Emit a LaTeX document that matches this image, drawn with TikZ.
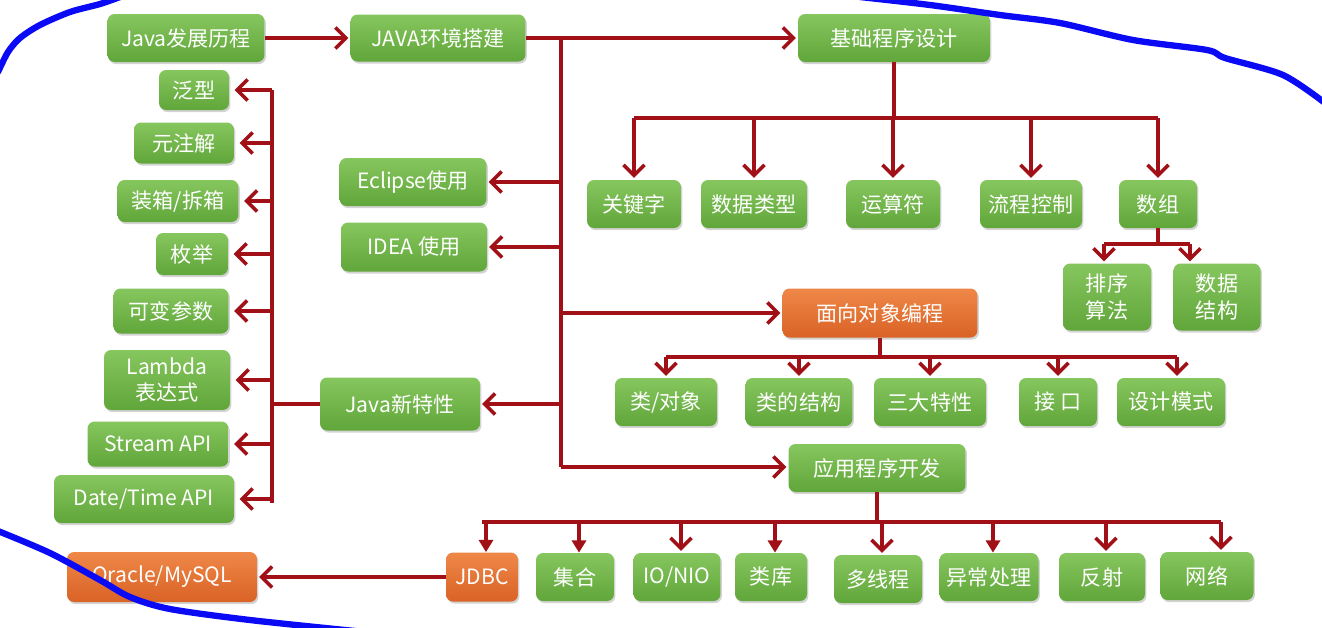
\documentclass[tikz,border=0pt]{standalone}
\usepackage{fontspec}
\setmainfont{Noto Sans CJK SC}
\usetikzlibrary{arrows.meta,shadows}

\definecolor{linkred}{RGB}{160,16,22}
\definecolor{greentop}{RGB}{134,198,94}
\definecolor{greenbot}{RGB}{96,166,58}
\definecolor{orangetop}{RGB}{238,136,72}
\definecolor{orangebot}{RGB}{218,98,38}
\definecolor{penblue}{RGB}{10,10,245}

\tikzset{
  topic/.style={rounded corners=4pt, top color=greentop, bottom color=greenbot, draw=none,
    text=white, font=\fontsize{12}{15}\selectfont, align=center, inner sep=2pt,
    drop shadow={opacity=0.35, shadow xshift=0.8pt, shadow yshift=-1.2pt}},
  hot/.style={topic, top color=orangetop, bottom color=orangebot},
  link/.style={draw=linkred, line width=2.2pt},
  arrow/.style={link, -{Straight Barb[length=6pt,width=12pt,line width=2pt]}, shorten >=1pt},
  tip/.style={link, -{Triangle[length=7pt,width=8pt]}},
  pen/.style={draw=penblue, line width=3.6pt, line cap=round, line join=round}
}

\begin{document}
\begin{tikzpicture}[x=0.02cm, y=-0.02cm]

    \useasboundingbox (0,0) rectangle (1322,627);

    % Main line
    \node[topic, minimum width=3.14cm, minimum height=0.96cm] (hist) at (186,38) {Java发展历程};
    \node[topic, minimum width=3.5cm, minimum height=0.94cm] (env) at (438,38) {JAVA环境搭建};
    \node[topic, minimum width=3.84cm, minimum height=0.96cm] (basic) at (894,38) {基础程序设计};

    % Basics
    \node[topic, minimum width=1.88cm, minimum height=0.96cm] (kw) at (634,204) {关键字};
    \node[topic, minimum width=2.12cm, minimum height=0.96cm] (dtype) at (754,204) {数据类型};
    \node[topic, minimum width=1.88cm, minimum height=0.96cm] (op) at (893,204) {运算符};
    \node[topic, minimum width=2.04cm, minimum height=0.96cm] (flow) at (1031,204) {流程控制};
    \node[topic, minimum width=1.56cm, minimum height=0.96cm] (arr) at (1158,204) {数组};
    \node[topic, minimum width=1.76cm, minimum height=1.34cm] (sort) at (1107,297) {排序\\算法};
    \node[topic, minimum width=1.74cm, minimum height=1.34cm] (ds) at (1217,297) {数据\\结构};

    % Object oriented
    \node[hot, minimum width=3.9cm, minimum height=0.98cm] (oop) at (880,313) {面向对象编程};
    \node[topic, minimum width=2.04cm, minimum height=0.96cm] (cls) at (666,402) {类/对象};
    \node[topic, minimum width=2.14cm, minimum height=0.96cm] (struct) at (799,402) {类的结构};
    \node[topic, minimum width=2.24cm, minimum height=0.96cm] (three) at (930,402) {三大特性};
    \node[topic, minimum width=1.56cm, minimum height=0.96cm] (iface) at (1058,402) {接\ 口};
    \node[topic, minimum width=2.16cm, minimum height=0.96cm] (pattern) at (1171,402) {设计模式};

    % Applications
    \node[topic, minimum width=3.54cm, minimum height=0.96cm] (app) at (877,468) {应用程序开发};
    \node[hot, minimum width=1.44cm, minimum height=0.98cm] (jdbc) at (482,577) {JDBC};
    \node[topic, minimum width=1.56cm, minimum height=0.96cm] (coll) at (575,577) {集合};
    \node[topic, minimum width=1.74cm, minimum height=0.96cm] (io) at (677,577) {IO/NIO};
    \node[topic, minimum width=1.44cm, minimum height=0.96cm] (lib) at (771,577) {类库};
    \node[topic, minimum width=1.76cm, minimum height=0.96cm] (thread) at (878,579) {多线程};
    \node[topic, minimum width=1.98cm, minimum height=0.96cm] (exc) at (989,577) {异常处理};
    \node[topic, minimum width=1.72cm, minimum height=0.96cm] (refl) at (1102,577) {反射};
    \node[topic, minimum width=1.86cm, minimum height=0.96cm] (net) at (1207,576) {网络};
    \node[hot, minimum width=3.8cm, minimum height=1.0cm] (db) at (162,577) {Oracle/MySQL};

    % Tools and new features
    \node[topic, minimum width=2.94cm, minimum height=0.96cm] (ecl) at (413,182) {Eclipse使用};
    \node[topic, minimum width=2.92cm, minimum height=0.98cm] (idea) at (414,247) {IDEA 使用};
    \node[topic, minimum width=3.2cm, minimum height=1.06cm] (newf) at (400,404) {Java新特性};
    \node[topic, minimum width=1.4cm, minimum height=0.8cm] (gen) at (194,90) {泛型};
    \node[topic, minimum width=2.0cm, minimum height=0.82cm] (anno) at (184,143) {元注解};
    \node[topic, minimum width=2.42cm, minimum height=0.84cm] (boxing) at (178,201) {装箱/拆箱};
    \node[topic, minimum width=1.44cm, minimum height=0.84cm] (enum) at (192,254) {枚举};
    \node[topic, minimum width=2.3cm, minimum height=0.9cm] (vararg) at (171,311) {可变参数};
    \node[topic, minimum width=2.52cm, minimum height=1.2cm] (lambda) at (167,380) {Lambda\\表达式};
    \node[topic, minimum width=2.82cm, minimum height=0.9cm] (stream) at (158,444) {Stream API};
    \node[topic, minimum width=3.6cm, minimum height=0.96cm] (date) at (144,499) {Date/Time API};

    \coordinate (mainbus) at (561,38);
    \coordinate (mainend) at (561,467);
    \coordinate (leftbus) at (272,90);
    \coordinate (leftend) at (272,503);
    \coordinate (basicbus) at (894,118);
    \coordinate (arrbus) at (1158,244);
    \coordinate (oopbus) at (880,357);
    \coordinate (appbus) at (877,522);

    % Trunk
    \draw[arrow] (hist.east) -- (env.west);
    \draw[arrow] (env.east) -- (basic.west);
    \draw[link] (mainbus) -- (mainend);
    \draw[arrow] (ecl.east -| mainbus) -- (ecl.east);
    \draw[arrow] (idea.east -| mainbus) -- (idea.east);
    \draw[arrow] (newf.east -| mainbus) -- (newf.east);
    \draw[arrow] (oop.west -| mainbus) -- (oop.west);
    \draw[arrow] (mainend) -- (app.west |- mainend);

    % New features
    \draw[link] (newf.west) -- (newf.west -| leftbus);
    \draw[link] (leftbus) -- (leftend);
    \foreach \n in {gen,anno,boxing,enum,vararg,lambda,stream,date}
      \draw[arrow] (\n.east -| leftbus) -- ([xshift=2pt]\n.east);

    % Basics
    \draw[link] (basic.south) -- (basicbus);
    \draw[link] (kw.north |- basicbus) -- (arr.north |- basicbus);
    \foreach \n in {kw,dtype,op,flow,arr}
      \draw[arrow] (\n.north |- basicbus) -- (\n.north);
    \draw[link] (arr.south) -- (arrbus);
    \draw[link] ([xshift=-0.06cm]sort.north |- arrbus) -- ([xshift=-0.54cm]ds.north |- arrbus);
    \draw[arrow] ([xshift=-0.06cm]sort.north |- arrbus) -- ([xshift=-0.06cm]sort.north);
    \draw[arrow] ([xshift=-0.54cm]ds.north |- arrbus) -- ([xshift=-0.54cm]ds.north);

    % Object oriented
    \draw[link] (oop.south) -- (oopbus);
    \draw[link] (cls.north |- oopbus) -- ([xshift=0.12cm]pattern.north |- oopbus);
    \foreach \n in {cls,struct,three,iface}
      \draw[arrow] (\n.north |- oopbus) -- (\n.north);
    \draw[arrow] ([xshift=0.12cm]pattern.north |- oopbus) -- ([xshift=0.12cm]pattern.north);

    % Applications
    \draw[link] (app.south) -- (appbus);
    \draw[link] (jdbc.north |- appbus) -- ([xshift=0.28cm]net.north |- appbus);
    \foreach \n in {jdbc,coll,lib,exc}
      \draw[tip] ([xshift=0.08cm]\n.north |- appbus) -- ([xshift=0.08cm]\n.north);
    \foreach \n in {io,thread,refl}
      \draw[arrow] ([xshift=0.08cm]\n.north |- appbus) -- ([xshift=0.08cm]\n.north);
    \draw[arrow] ([xshift=0.28cm]net.north |- appbus) -- ([xshift=0.28cm]net.north);
    \draw[arrow] (jdbc.west) -- (db.east);

    % Pen strokes
    \draw[pen] plot[smooth] coordinates {(-2,72) (8,52) (20,38) (40,25) (70,12) (100,4) (120,-3)};
    \draw[pen] plot[smooth] coordinates {(860,-3) (930,5) (1000,15) (1060,23) (1133,40) (1207,50) (1225,58) (1283,75) (1325,103)};
    \draw[pen] plot[smooth] coordinates {(-2,531) (50,553) (100,580) (130,597) (170,609) (250,620) (355,631)};

\end{tikzpicture}
\end{document}
